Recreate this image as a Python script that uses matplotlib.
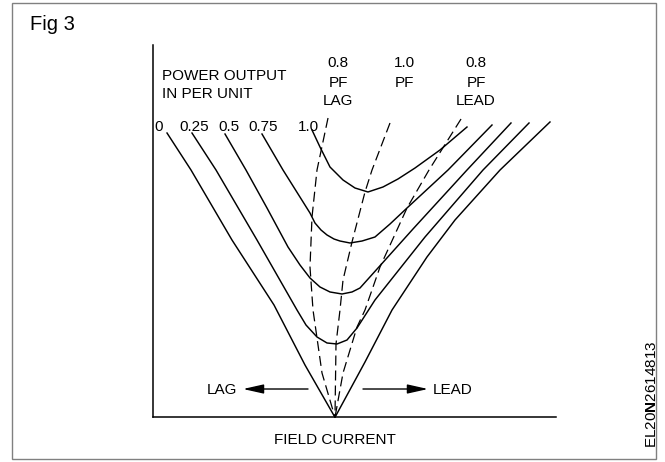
import matplotlib
matplotlib.use("Agg")
import matplotlib.pyplot as plt
from matplotlib.patches import Rectangle

plt.rcParams['font.family'] = ['Liberation Sans', 'DejaVu Sans']
plt.rcParams['mathtext.fontset'] = 'custom'
plt.rcParams['mathtext.rm'] = 'Liberation Sans'
plt.rcParams['mathtext.bf'] = 'Liberation Sans:bold'

# ---- data (field current on x, armature current on y, arbitrary units 0..10) ----
power_labels = ["0", "0.25", "0.5", "0.75", "1.0"]

v0_x = [0.355, 0.950, 1.966, 3.008, 3.776, 4.520, 5.264, 5.934, 6.801, 7.496, 8.612, 9.851]
v0_y = [7.636, 6.642, 4.762, 3.016, 1.405, 0.000, 1.485, 2.882, 4.306, 5.300, 6.642, 7.932]

v025_x = [0.974, 1.570, 2.586, 3.578, 3.801, 4.074, 4.322, 4.570, 4.818, 5.066, 5.512, 6.752, 8.190, 9.331]
v025_y = [7.636, 6.642, 4.762, 2.882, 2.479, 2.157, 1.996, 1.969, 2.076, 2.399, 3.151, 4.843, 6.642, 7.905]

v05_x = [1.793, 2.313, 2.834, 3.355, 3.652, 3.900, 4.148, 4.396, 4.694, 4.942, 5.140, 6.454, 7.793, 8.884]
v05_y = [7.609, 6.642, 5.622, 4.574, 4.091, 3.742, 3.500, 3.366, 3.312, 3.366, 3.473, 5.058, 6.642, 7.905]

v075_x = [2.710, 3.231, 3.900, 4.024, 4.173, 4.322, 4.495, 4.644, 4.892, 5.190, 5.512, 5.884, 6.306, 7.322, 8.413]
v075_y = [7.609, 6.642, 5.487, 5.219, 5.031, 4.897, 4.789, 4.735, 4.682, 4.735, 4.843, 5.192, 5.622, 6.642, 7.851]

v10_x = [3.950, 4.148, 4.396, 4.719, 5.016, 5.338, 5.710, 6.082, 6.504, 7.124, 7.793]
v10_y = [7.717, 7.260, 6.723, 6.374, 6.159, 6.052, 6.186, 6.401, 6.696, 7.180, 7.797]

pf_lag_x = [4.347, 4.074, 3.950, 3.900, 3.975, 4.198, 4.520]
pf_lag_y = [8.039, 6.642, 5.380, 4.037, 2.882, 1.190, 0.000]

pf_unity_x = [5.884, 5.438, 5.264, 4.942, 4.719, 4.644, 4.545, 4.520]
pf_unity_y = [7.905, 6.642, 6.052, 4.709, 3.688, 2.882, 1.969, 0.000]

pf_lead_x = [7.645, 6.851, 6.306, 5.636, 5.264, 5.066, 4.719, 4.520]
pf_lead_y = [8.012, 6.642, 5.622, 4.037, 2.882, 2.425, 1.190, 0.000]

pf_labels = ["0.8\nPF\nLAG", "1.0\nPF", "0.8\nPF\nLEAD"]

# ---- figure ----
W, H = 665, 462
fig = plt.figure(figsize=(W / 100, H / 100), dpi=100)
fig.patch.set_facecolor('white')

# outer frame
fig.patches.append(Rectangle((12 / W, 1 - 459 / H), (656 - 12) / W, (459 - 3) / H,
                             transform=fig.transFigure, fill=False,
                             edgecolor='#808080', lw=1.0))

fig.text(30 / W, 1 - 30 / H, "Fig 3", fontsize=14.5, ha='left', va='baseline')
fig.text(652 / W, 1 - 394 / H, r"EL20$\mathbf{N}$2614813", fontsize=11,
         rotation=90, ha='center', va='center')

ax = fig.add_axes([152.7 / W, (H - 417.3) / H, (556 - 152.7) / W, (417.3 - 45) / H])
ax.set_xlim(0, 10)
ax.set_ylim(0, 10)
ax.set_xticks([])
ax.set_yticks([])
for s in ('top', 'right'):
    ax.spines[s].set_visible(False)
for s in ('left', 'bottom'):
    ax.spines[s].set_linewidth(1.1)
ax.patch.set_alpha(0)

solid_kw = dict(color='black', lw=1.05, solid_joinstyle='round', clip_on=False)
for xs, ys in [(v0_x, v0_y), (v025_x, v025_y), (v05_x, v05_y), (v075_x, v075_y), (v10_x, v10_y)]:
    ax.plot(xs, ys, **solid_kw)

dash_kw = dict(color='black', lw=0.9, dashes=(8, 4), clip_on=False)
for xs, ys in [(pf_lag_x, pf_lag_y), (pf_unity_x, pf_unity_y), (pf_lead_x, pf_lead_y)]:
    ax.plot(xs, ys, **dash_kw)

fs = 11
ax.text(0.23, 9.060, "POWER OUTPUT", fontsize=fs, ha='left', va='baseline')
ax.text(0.23, 8.563, "IN PER UNIT", fontsize=fs, ha='left', va='baseline')

power_label_x = [0.156, 1.024, 1.893, 2.736, 3.851]
for lab, xv in zip(power_labels, power_label_x):
    ax.text(xv, 7.703, lab, fontsize=fs, ha='center', va='baseline')

pf_label_x = [4.595, 6.232, 8.017]
line_y = [9.396, 8.885, 8.388]
for lab, xv in zip(pf_labels, pf_label_x):
    for i, part in enumerate(lab.split("\n")):
        ax.text(xv, line_y[i], part, fontsize=fs, ha='center', va='baseline')

ax.text(2.101, 0.626, "LAG", fontsize=fs, ha='right', va='baseline')
ax.text(6.950, 0.626, "LEAD", fontsize=fs, ha='left', va='baseline')
arrow_kw = dict(arrowstyle='-|>,head_length=1.25,head_width=0.28', color='black',
                lw=1.0, shrinkA=0, shrinkB=0, mutation_scale=10)
ax.annotate('', xy=(2.239, 0.760), xytext=(3.851, 0.760), arrowprops=arrow_kw,
            annotation_clip=False)
ax.annotate('', xy=(6.826, 0.760), xytext=(5.214, 0.760), arrowprops=arrow_kw,
            annotation_clip=False)

ax.text(4.520, -0.717, "FIELD CURRENT", fontsize=fs, ha='center', va='baseline')

fig.savefig("out.png", dpi=100)
